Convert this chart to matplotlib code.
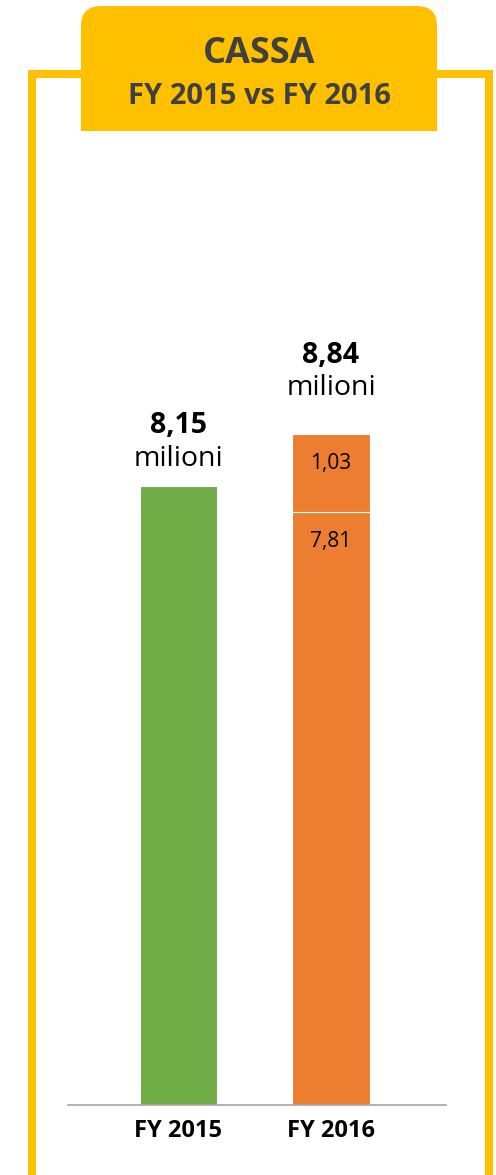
import matplotlib.pyplot as plt
from matplotlib.patches import FancyBboxPatch, Rectangle

plt.rcParams['font.family'] = ['Open Sans', 'DejaVu Sans']

categories = ["FY 2015", "FY 2016"]
base_values = [8.15, 7.81]
extra_values = [0, 1.03]
totals = [8.15, 8.84]
total_labels = ["8,15", "8,84"]
segment_labels = ["7,81", "1,03"]
title = "CASSA"
subtitle = "FY 2015 vs FY 2016"

yellow = "#FFC000"
green = "#70AD47"
orange = "#ED7D31"
grey_text = "#404040"

W, H = 496, 1175
fig = plt.figure(figsize=(W / 100, H / 100), dpi=100)

# decoration layer in pixel coordinates
deco = fig.add_axes([0, 0, 1, 1], zorder=0)
deco.set_xlim(0, W)
deco.set_ylim(H, 0)
deco.axis("off")
lw = 8 * 0.72
deco.plot([32, 32], [74, H + 10], color=yellow, lw=lw, solid_capstyle="projecting")
deco.plot([489, 489], [74, H + 10], color=yellow, lw=lw, solid_capstyle="projecting")
deco.plot([32, 489], [74, 74], color=yellow, lw=lw, solid_capstyle="projecting")
deco.add_patch(FancyBboxPatch((81, 6), 356, 125, boxstyle="round,pad=0,rounding_size=20",
                              fc=yellow, ec="none"))
deco.add_patch(Rectangle((81, 60), 356, 71, fc=yellow, ec="none"))
deco.text(259, 54, title, ha="center", va="center", fontsize=26, fontweight="bold", color=grey_text)
deco.text(259, 96, subtitle, ha="center", va="center", fontsize=21, fontweight="bold", color=grey_text)

# chart axes: baseline at y=1105 px, x from 68 to 446 px
ax_left, ax_right = 68, 446
ax_bottom, ax_top = 1105, 150
ax = fig.add_axes([ax_left / W, (H - ax_bottom) / H, (ax_right - ax_left) / W, (ax_bottom - ax_top) / H],
                  zorder=1)
ax.patch.set_alpha(0)
px_per_unit = 75.9
ax.set_ylim(0, (ax_bottom - ax_top) / px_per_unit)
step = 152.5
ax.set_xlim(-(178.5 - ax_left) / step, 1 + (ax_right - 331) / step)

x = [0, 1]
colors = [green, orange]
ax.bar(x, base_values, width=0.505, color=colors, edgecolor="white", linewidth=0.8)
ax.bar(x[1], extra_values[1], bottom=base_values[1], width=0.505, color=orange,
       edgecolor="white", linewidth=0.8)

for spine in ["top", "right", "left"]:
    ax.spines[spine].set_visible(False)
ax.spines["bottom"].set_color("#A6A6A6")
ax.spines["bottom"].set_linewidth(1.2)
ax.set_yticks([])
ax.set_xticks(x)
ax.set_xticklabels(categories, fontsize=17, fontweight="bold", color="black")
ax.tick_params(axis="x", length=0, pad=10)

# total labels above bars
total_offsets = [(61, 27), (79, 46)]
for xi, tot, lab, (o1, o2) in zip(x, totals, total_labels, total_offsets):
    ax.annotate(lab, (xi, tot), xytext=(0, o1), textcoords="offset pixels",
                ha="center", va="center", fontsize=20.5, fontweight="bold", color="black")
    ax.annotate("milioni", (xi, tot), xytext=(0, o2), textcoords="offset pixels",
                ha="center", va="center", fontsize=20.5, color="black")

# segment labels inside the FY 2016 stack
seg_tops = [base_values[1], base_values[1] + extra_values[1]]
for top, lab in zip(seg_tops, segment_labels):
    ax.annotate(lab, (x[1], top), xytext=(0, -29), textcoords="offset pixels",
                ha="center", va="center", fontsize=15, color="black")

fig.savefig("out.png", dpi=100)
